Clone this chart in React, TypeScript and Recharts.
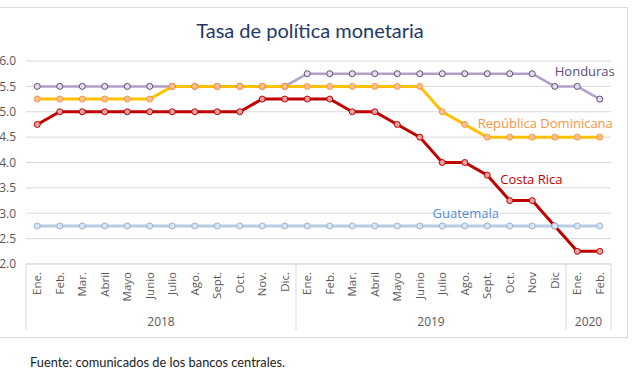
import React from "react";
import { LineChart, Line, XAxis, YAxis, CartesianGrid, LabelList } from "recharts";

const months = ["Ene.", "Feb.", "Mar.", "Abril", "Mayo", "Junio", "Julio", "Ago.", "Sept.", "Oct.", "Nov.", "Dic.", "Ene.", "Feb.", "Mar.", "Abril", "Mayo", "Junio", "Julio", "Ago.", "Sept.", "Oct.", "Nov", "Dic", "Ene.", "Feb."];
const years = ["2018", "2018", "2018", "2018", "2018", "2018", "2018", "2018", "2018", "2018", "2018", "2018", "2019", "2019", "2019", "2019", "2019", "2019", "2019", "2019", "2019", "2019", "2019", "2019", "2020", "2020"];
const honduras = [5.5, 5.5, 5.5, 5.5, 5.5, 5.5, 5.5, 5.5, 5.5, 5.5, 5.5, 5.5, 5.75, 5.75, 5.75, 5.75, 5.75, 5.75, 5.75, 5.75, 5.75, 5.75, 5.75, 5.5, 5.5, 5.25];
const dominicana = [5.25, 5.25, 5.25, 5.25, 5.25, 5.25, 5.5, 5.5, 5.5, 5.5, 5.5, 5.5, 5.5, 5.5, 5.5, 5.5, 5.5, 5.5, 5.0, 4.75, 4.5, 4.5, 4.5, 4.5, 4.5, 4.5];
const costaRica = [4.75, 5.0, 5.0, 5.0, 5.0, 5.0, 5.0, 5.0, 5.0, 5.0, 5.25, 5.25, 5.25, 5.25, 5.0, 5.0, 4.75, 4.5, 4.0, 4.0, 3.75, 3.25, 3.25, 2.75, 2.25, 2.25];
const guatemala = [2.75, 2.75, 2.75, 2.75, 2.75, 2.75, 2.75, 2.75, 2.75, 2.75, 2.75, 2.75, 2.75, 2.75, 2.75, 2.75, 2.75, 2.75, 2.75, 2.75, 2.75, 2.75, 2.75, 2.75, 2.75, 2.75];
const yTicks = [2.0, 2.5, 3.0, 3.5, 4.0, 4.5, 5.0, 5.5, 6.0];
const title = "Tasa de política monetaria";
const source = "Fuente: comunicados de los bancos centrales.";

const data = months.map((m, i) => ({
  key: i,
  month: m,
  year: years[i],
  honduras: honduras[i],
  dominicana: dominicana[i],
  costaRica: costaRica[i],
  guatemala: guatemala[i],
}));

const W = 640;
const H = 381;
const PLOT_LEFT = 26;
const PLOT_RIGHT = 611;
const PLOT_TOP = 61;
const PLOT_BOTTOM = 264;
const BAND = (PLOT_RIGHT - PLOT_LEFT) / months.length;
const SEP_BOTTOM = 330;
const GRID = "#D9D9D9";
const TXT = "#595959";
const FONT = "'Open Sans', 'Noto Sans', sans-serif";

const MonthTick = (props: any) => {
  const { x, payload } = props;
  const i = props.index ?? payload.index;
  const row = data[i];
  const els: any[] = [];
  els.push(
    <text key="m" transform={`translate(${x + 4},${PLOT_BOTTOM + 8}) rotate(-90)`} textAnchor="end" fontSize={11.5} fill={TXT} fontFamily={FONT}>
      {row.month}
    </text>
  );
  const first = i === 0 || years[i - 1] !== row.year;
  if (first) {
    els.push(<line key="s" x1={x - BAND / 2} x2={x - BAND / 2} y1={PLOT_BOTTOM} y2={SEP_BOTTOM} stroke={GRID} strokeWidth={1} />);
    const count = years.filter((y) => y === row.year).length;
    els.push(
      <text key="y" x={x - BAND / 2 + (count * BAND) / 2} y={PLOT_BOTTOM + 62} textAnchor="middle" fontSize={12} fill={TXT} fontFamily={FONT}>
        {row.year}
      </text>
    );
  }
  if (i === months.length - 1) {
    els.push(<line key="e" x1={x + BAND / 2} x2={x + BAND / 2} y1={PLOT_BOTTOM} y2={SEP_BOTTOM} stroke={GRID} strokeWidth={1} />);
  }
  return <g>{els}</g>;
};

const makeLabel = (idx: number, text: string, color: string, dx: number, dy: number, anchor: string) => (p: any) => {
  if (p.index !== idx) return null;
  return (
    <text x={p.x + dx} y={p.y + dy} textAnchor={anchor} fontSize={13} fill={color} fontFamily={FONT}>
      {text}
    </text>
  );
};

export default function App() {
  return (
    <div style={{ position: "absolute", left: 0, top: 0, width: W, height: H, background: "#fff", overflow: "hidden" }}>
      <div style={{ position: "absolute", left: -2, top: 7, width: 630, height: 331, border: `1px solid ${GRID}`, boxSizing: "border-box" }} />
      <div style={{ position: "absolute", left: 0, top: 16, width: 620, textAlign: "center", fontFamily: "Lato, sans-serif", fontSize: 20, color: "#1F3864", lineHeight: "28px" }}>
        {title}
      </div>
      <div style={{ position: "absolute", left: 30, top: 354, fontFamily: "Lato, sans-serif", fontSize: 12.8, color: "#222", lineHeight: "16px" }}>
        {source}
      </div>
      <div style={{ position: "absolute", left: 0, top: 0 }}>
        <LineChart width={W} height={H} data={data} margin={{ top: PLOT_TOP, right: W - PLOT_RIGHT, left: 0, bottom: H - SEP_BOTTOM }}>
          <CartesianGrid horizontal={true} vertical={false} stroke={GRID} />
          <XAxis dataKey="key" type="category" interval={0} tickLine={false} axisLine={{ stroke: GRID }} height={SEP_BOTTOM - PLOT_BOTTOM} padding={{ left: BAND / 2, right: BAND / 2 }} tick={<MonthTick />} />
          <YAxis width={PLOT_LEFT} domain={[2, 6]} ticks={yTicks} tickFormatter={(v: number) => v.toFixed(1)} tickLine={false} axisLine={false} tickMargin={4} tick={{ fontSize: 12, fill: TXT, fontFamily: FONT }} />
          <Line dataKey="honduras" stroke="#B1A0C7" strokeWidth={2.5} isAnimationActive={false} dot={{ r: 3, fill: "#E4DFEC", stroke: "#60497A", strokeWidth: 1 }}>
            <LabelList dataKey="honduras" content={makeLabel(23, "Honduras", "#60497A", 0, -10, "start")} />
          </Line>
          <Line dataKey="costaRica" stroke="#C00000" strokeWidth={3} isAnimationActive={false} dot={{ r: 3, fill: "#E6A3A3", stroke: "#C00000", strokeWidth: 1 }}>
            <LabelList dataKey="costaRica" content={makeLabel(20, "Costa Rica", "#C00000", 13, 9, "start")} />
          </Line>
          <Line dataKey="guatemala" stroke="#B8CCE4" strokeWidth={3} isAnimationActive={false} dot={{ r: 3, fill: "#DCE6F2", stroke: "#95B3D7", strokeWidth: 1 }}>
            <LabelList dataKey="guatemala" content={makeLabel(19, "Guatemala", "#558ED5", 1, -8, "middle")} />
          </Line>
          <Line dataKey="dominicana" stroke="#FFC000" strokeWidth={3} isAnimationActive={false} dot={{ r: 3, fill: "#FAC090", stroke: "#F79646", strokeWidth: 1 }}>
            <LabelList dataKey="dominicana" content={makeLabel(19, "República Dominicana", "#F79646", 13, 4, "start")} />
          </Line>
        </LineChart>
      </div>
    </div>
  );
}
